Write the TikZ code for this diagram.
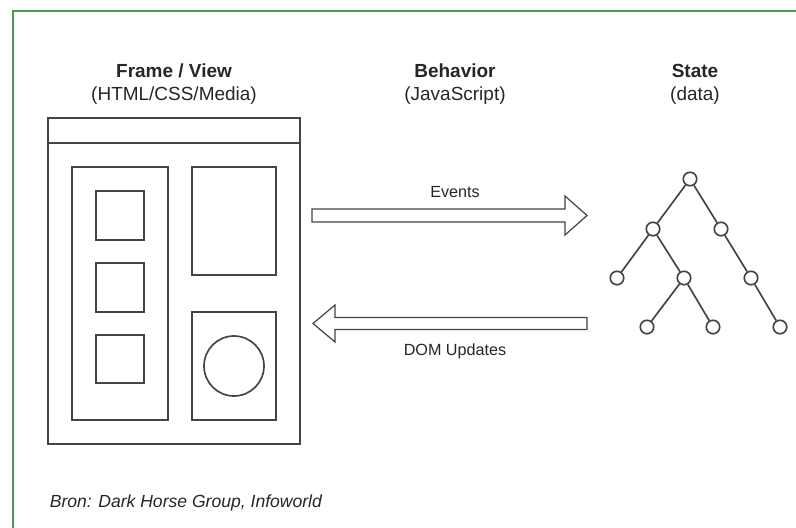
\documentclass[tikz,border=0pt]{standalone}
\usepackage{fontspec}
\setmainfont{Liberation Sans}
\usepackage{tikz}
\definecolor{framegreen}{RGB}{84,150,84}
\definecolor{ink}{RGB}{68,68,68}

\begin{document}
\begin{tikzpicture}[x=0.02cm, y=-0.02cm, line width=0.95pt, draw=ink,
  leaf/.style={draw=ink, circle, minimum size=0.27cm, inner sep=0pt},
  head/.style={anchor=base, inner sep=0pt, text=black!85, font=\bfseries\fontsize{10.8}{12}\selectfont},
  sub/.style={anchor=base, inner sep=0pt, text=black!85, font=\fontsize{10.8}{12}\selectfont},
  tag/.style={anchor=base, inner sep=0pt, text=black!85, font=\fontsize{9.2}{11}\selectfont}]
\useasboundingbox (0,0) rectangle (796,528);
% green border (runs off the page right and bottom)
\draw [framegreen, line width=1.7pt] (13,528) -- (13,11) -- (796,11);

% column titles
\node [head] (fvhead) at (174,77) {Frame / View};
\node [sub] (fvsub) at (174,100) {(HTML/CSS/Media)};
\node [head] (bhhead) at (455,77) {Behavior};
\node [sub] (bhsub) at (455,100) {(JavaScript)};
\node [head] (sthead) at (695,77) {State};
\node [sub] (stsub) at (695,100) {(data)};

% browser window
\draw (48,118) rectangle (300,444);
\draw (48,143) -- (300,143);
\draw (72,167) rectangle (168,420);
\draw (96,191) rectangle (144,240);
\draw (96,263) rectangle (144,312);
\draw (96,335) rectangle (144,383);
\draw (192,167) rectangle (276,275);
\draw (192,312) rectangle (276,420);
\draw (234,366) circle [radius=30];

% block arrows
\draw [line width=0.7pt] (312,209) -- (565,209) -- (565,196) -- (587,215.5)
  -- (565,235) -- (565,222) -- (312,222) -- cycle;
\node [tag] (events) at (455,197) {Events};
\draw [line width=0.7pt] (587,317.5) -- (335,317.5) -- (335,305) -- (313,323.5)
  -- (335,342) -- (335,329.5) -- (587,329.5) -- cycle;
\node [tag] (dom) at (455,355) {DOM Updates};

% state tree
\node [leaf] (r) at (690,179) {};
\node [leaf] (a) at (653,229) {};
\node [leaf] (b) at (721,229) {};
\node [leaf] (aa) at (617,278) {};
\node [leaf] (ab) at (684,278) {};
\node [leaf] (ba) at (751,278) {};
\node [leaf] (aba) at (647,327) {};
\node [leaf] (abb) at (713,327) {};
\node [leaf] (baa) at (780,327) {};
\draw (r) -- (a); \draw (r) -- (b);
\draw (a) -- (aa); \draw (a) -- (ab);
\draw (b) -- (ba);
\draw (ab) -- (aba); \draw (ab) -- (abb);
\draw (ba) -- (baa);

% source line
\node [anchor=base west, inner sep=0pt, text=black!85, font=\itshape\fontsize{10}{12}\selectfont] (src) at (49,507) {Bron: Dark Horse Group, Infoworld};
\end{tikzpicture}
\end{document}
